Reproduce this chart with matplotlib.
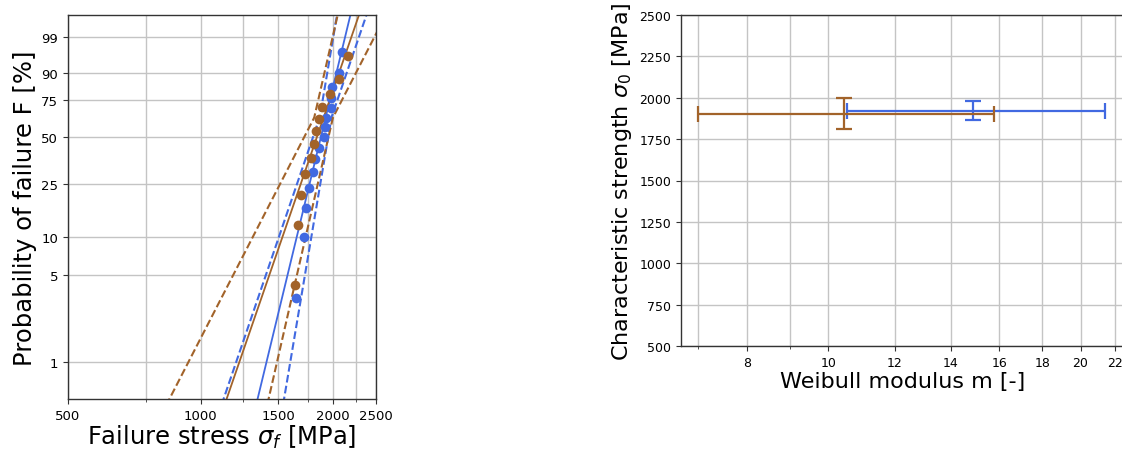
import numpy as np
import matplotlib
matplotlib.use("Agg")
import matplotlib.pyplot as plt
from matplotlib.ticker import FixedLocator, NullFormatter, FuncFormatter

BLUE = "#4169e1"
BROWN = "#a2632a"
GRID = "#c4c4c4"
SPINE = "#333333"

# ranked specimens: probability of failure and failure stress [MPa]
F_blue = [0.033, 0.100, 0.167, 0.233, 0.300, 0.367, 0.433, 0.500,
          0.567, 0.633, 0.700, 0.767, 0.833, 0.900, 0.967]
stress_blue = [1648, 1712, 1736, 1761, 1798, 1820, 1855, 1901,
               1911, 1921, 1972, 1975, 1985, 2057, 2093]
F_brown = [0.042, 0.125, 0.208, 0.292, 0.375, 0.458,
           0.542, 0.625, 0.708, 0.792, 0.875, 0.958]
stress_brown = [1637, 1662, 1692, 1722, 1779, 1804,
                1830, 1855, 1889, 1969, 2061, 2160]

# Weibull fits (blue, brown) with confidence limits
m_fit = [14.9, 10.45]
m_low = [10.54, 7.0]
m_high = [21.41, 15.75]
s0_fit = [1921, 1901]
s0_low = [1863, 1810]
s0_high = [1980, 1996]

prob_ticks = [1, 5, 10, 25, 50, 75, 90, 99]
stress_ticks = [500, 1000, 1500, 2000, 2500]
stress_minor = [750, 1250, 1750, 2250]
m_ticks = [8, 10, 12, 14, 16, 18, 20, 22]
m_minor = [7, 9]
s0_ticks = list(range(500, 2501, 250))


def weib(F):
    F = np.asarray(F, dtype=float)
    return np.log(-np.log(1.0 - F))


fig = plt.figure(figsize=(11.22, 4.52), dpi=100)
ax1 = fig.add_axes([68 / 1122, 52 / 452, 308 / 1122, 384 / 452])
ax2 = fig.add_axes([681 / 1122, 105 / 452, 444 / 1122, 331 / 452])

for ax, fs in ((ax1, 9.5), (ax2, 9)):
    ax.set_axisbelow(True)
    for s in ax.spines.values():
        s.set_color(SPINE)
        s.set_linewidth(1.0)
    ax.tick_params(which="both", labelsize=fs, color=SPINE)
    ax.grid(True, which="both", color=GRID, lw=1.0)

# --- Weibull probability plot
t = np.linspace(-5.6, 2.2, 300)
series = [(F_blue, stress_blue, BLUE), (F_brown, stress_brown, BROWN)]
for i, (F, s, col) in enumerate(series):
    ax1.plot(s0_fit[i] * np.exp(t / m_fit[i]), t, color=col, lw=1.3, zorder=2)
    lo = np.where(t < 0, s0_low[i] * np.exp(t / m_low[i]), s0_low[i] * np.exp(t / m_high[i]))
    hi = np.where(t < 0, s0_high[i] * np.exp(t / m_high[i]), s0_high[i] * np.exp(t / m_low[i]))
    ax1.plot(lo, t, "--", color=col, lw=1.5, zorder=2)
    ax1.plot(hi, t, "--", color=col, lw=1.5, zorder=2)
for F, s, col in series:
    ax1.plot(s, weib(F), "o", color=col, ms=7, mew=0, zorder=3)

ax1.set_xscale("log")
ax1.set_xlim(500, 2500)
ax1.xaxis.set_major_locator(FixedLocator(stress_ticks))
ax1.xaxis.set_major_formatter(FuncFormatter(lambda v, _: f"{v:g}"))
ax1.xaxis.set_minor_locator(FixedLocator(stress_minor))
ax1.xaxis.set_minor_formatter(NullFormatter())
ax1.set_ylim(weib(0.005), weib(0.999))
ax1.set_yticks(weib(np.array(prob_ticks) / 100))
ax1.set_yticklabels([str(p) for p in prob_ticks])
ax1.set_xlabel(r"Failure stress $\sigma_f$ [MPa]", fontsize=17.5, labelpad=1)
ax1.set_ylabel("Probability of failure F [%]", fontsize=17.5, labelpad=3)

# --- fitted parameters with confidence limits
for i, col in enumerate([BLUE, BROWN]):
    ax2.errorbar(m_fit[i], s0_fit[i],
                 xerr=[[m_fit[i] - m_low[i]], [m_high[i] - m_fit[i]]],
                 yerr=[[s0_fit[i] - s0_low[i]], [s0_high[i] - s0_fit[i]]],
                 fmt="none", ecolor=col, elinewidth=1.6, capsize=6, capthick=1.6)

ax2.set_xscale("log")
ax2.set_xlim(6.676, 22.6)
ax2.xaxis.set_major_locator(FixedLocator(m_ticks))
ax2.xaxis.set_major_formatter(FuncFormatter(lambda v, _: f"{v:g}"))
ax2.xaxis.set_minor_locator(FixedLocator(m_minor))
ax2.xaxis.set_minor_formatter(NullFormatter())
ax2.set_ylim(500, 2500)
ax2.set_yticks(s0_ticks)
ax2.set_xlabel("Weibull modulus m [-]", fontsize=16, labelpad=2)
ax2.set_ylabel(r"Characteristic strength $\sigma_0$ [MPa]", fontsize=16, labelpad=4)

fig.savefig("out.png", dpi=100)
